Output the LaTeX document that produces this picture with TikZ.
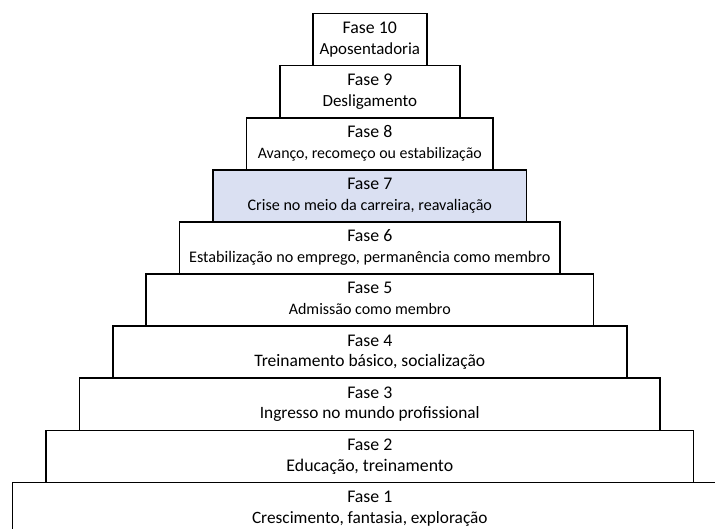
\documentclass[tikz,border=0pt]{standalone}
\usepackage{fontspec}
\setmainfont{Carlito}
\definecolor{crisefill}{RGB}{218,224,242}
\begin{document}
\begin{tikzpicture}[x=1pt,y=-1pt,
  fasebox/.style={draw=black,line width=1.7pt,fill=white,rectangle,inner sep=0pt,anchor=north},
  fasetitle/.style={font=\fontsize{17.8}{20}\selectfont,inner sep=0pt,anchor=base},
  fasetxt/.style={font=\fontsize{#1}{19}\selectfont,inner sep=0pt,anchor=base},
  fasetxt/.default=16]
\useasboundingbox (0,0) rectangle (715,529);
\clip (0,0) rectangle (715,529);
\def\cx{369.8}
\def\hh{52.1}
% Fase 1 .. 10 (bottom to top)
\foreach \i/\hw in {1/357.2,2/323.8,3/290.4,4/257,5/223.6,6/190.2,7/156.8,8/123.4,9/90,10/57}{
  \pgfmathsetmacro{\tp}{12.7+(10-\i)*\hh}
  \ifnum\i=7
    \node[fasebox,fill=crisefill,minimum width=2*\hw,minimum height=\hh] (b\i) at (\cx,\tp) {};
  \else
    \node[fasebox,minimum width=2*\hw,minimum height=\hh] (b\i) at (\cx,\tp) {};
  \fi
}
\foreach \i in {1,...,10}{
  \node[fasetitle] (f\i) at ([yshift=-20.8pt]b\i.north) {Fase \i};
}
\node[fasetxt=17.3] (t1) at ([yshift=-41.5pt]b1.north) {Crescimento, fantasia, exploração};
\node[fasetxt=17.8] (t2) at ([yshift=-41.5pt]b2.north) {Educação, treinamento};
\node[fasetxt=17.3] (t3) at ([yshift=-41.5pt]b3.north) {Ingresso no mundo profissional};
\node[fasetxt=17.5] (t4) at ([yshift=-41.5pt]b4.north) {Treinamento básico, socialização};
\node[fasetxt=16] (t5) at ([yshift=-41.5pt]b5.north) {Admissão como membro};
\node[fasetxt=16.2] (t6) at ([yshift=-41.5pt]b6.north) {Estabilização no emprego, permanência como membro};
\node[fasetxt=16.1] (t7) at ([yshift=-41.5pt]b7.north) {Crise no meio da carreira, reavaliação};
\node[fasetxt=15.9] (t8) at ([yshift=-41.5pt]b8.north) {Avanço, recomeço ou estabilização};
\node[fasetxt=17] (t9) at ([yshift=-41.5pt]b9.north) {Desligamento};
\node[fasetxt=16.9] (t10) at ([yshift=-41.5pt]b10.north) {Aposentadoria};
\end{tikzpicture}
\end{document}
